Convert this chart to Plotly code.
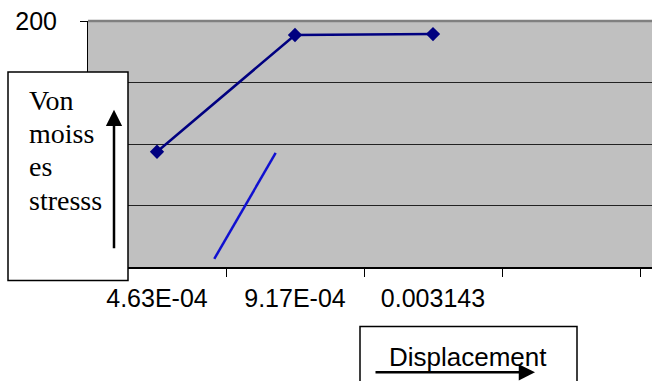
import plotly.graph_objects as go

# Data
categories = ["4.63E-04", "9.17E-04", "0.003143", " "]
stress = [93.7, 188.6, 189.4]
series_x = categories[:3]
y_tickvals = [0, 50, 100, 150, 200]
y_ticktext = ["", "", "", "", "200"]  # lower labels are hidden behind the text box

W, H = 652, 381
L, T, R, B = 88, 21, 652, 267.5

def px(x):
    return (x - L) / (R - L)

def py(y):
    return (B - y) / (B - T)

fig = go.Figure()
fig.add_trace(go.Scatter(
    x=series_x, y=stress, mode="lines+markers",
    line=dict(color="#000080", width=2.5),
    marker=dict(symbol="diamond", size=11, color="#000080"),
    showlegend=False, cliponaxis=False,
))

shapes = [
    # top border of plot area
    dict(type="line", xref="paper", yref="paper", x0=0, x1=1, y0=1, y1=1,
         line=dict(color="#808080", width=2.5), layer="above"),
    # stray blue line
    dict(type="line", xref="x", yref="y", x0=0.415, y0=6.6, x1=0.86, y1=92.7,
         line=dict(color="#1010D0", width=2.5), layer="above"),
    # left label box
    dict(type="rect", xref="paper", yref="paper", x0=px(8), x1=px(128), y0=py(281), y1=py(72),
         line=dict(color="black", width=1.5), fillcolor="white", layer="above"),
    # displacement box
    dict(type="rect", xref="paper", yref="paper", x0=px(360), x1=px(577), y0=py(400), y1=py(327),
         line=dict(color="black", width=1.5), fillcolor="white", layer="above"),
]

ann = []
for txt, base in [("Von", 110), ("moiss", 143), ("es", 176), ("stresss", 210)]:
    ann.append(dict(text=txt, xref="paper", yref="paper", x=px(27), y=py(base - 9),
                    xanchor="left", yanchor="middle", showarrow=False,
                    font=dict(family="Liberation Serif", size=28, color="black")))
ann.append(dict(text="Displacement", xref="paper", yref="paper", x=px(468), y=py(358),
                xanchor="center", yanchor="middle", showarrow=False,
                font=dict(family="Liberation Sans", size=26, color="black")))
# vertical arrow
ann.append(dict(text="", xref="paper", yref="paper", x=px(114), y=py(110), ax=0, ay=140,
                showarrow=True, arrowhead=2, arrowwidth=2.5, arrowsize=1.3, arrowcolor="black"))
# horizontal arrow
ann.append(dict(text="", xref="paper", yref="paper", x=px(535), y=py(373), ax=-161, ay=0,
                showarrow=True, arrowhead=2, arrowwidth=2.5, arrowsize=1.3, arrowcolor="black"))

fig.update_layout(
    width=W, height=H,
    margin=dict(l=L, r=0, t=T, b=H - B),
    paper_bgcolor="white", plot_bgcolor="#C0C0C0",
    shapes=shapes, annotations=ann,
    xaxis=dict(type="category", categoryorder="array", categoryarray=categories,
               range=[-0.5, 3.5 + 12 / 138], tickson="boundaries", ticks="outside",
               ticklen=8, tickcolor="black", showgrid=False, showline=True,
               linecolor="black", linewidth=1.5, zeroline=False,
               tickfont=dict(family="Liberation Sans", size=25, color="black"),
               ticklabelstandoff=8),
    yaxis=dict(range=[0, 200], tickvals=y_tickvals, ticktext=y_ticktext,
               ticks="outside", ticklen=7, tickcolor="black",
               showgrid=True, gridcolor="#222222", gridwidth=1, showline=True,
               linecolor="black", linewidth=1, zeroline=False,
               tickfont=dict(family="Liberation Sans", size=25, color="black"),
               ticklabelstandoff=18),
)

fig.write_html("out.html")
